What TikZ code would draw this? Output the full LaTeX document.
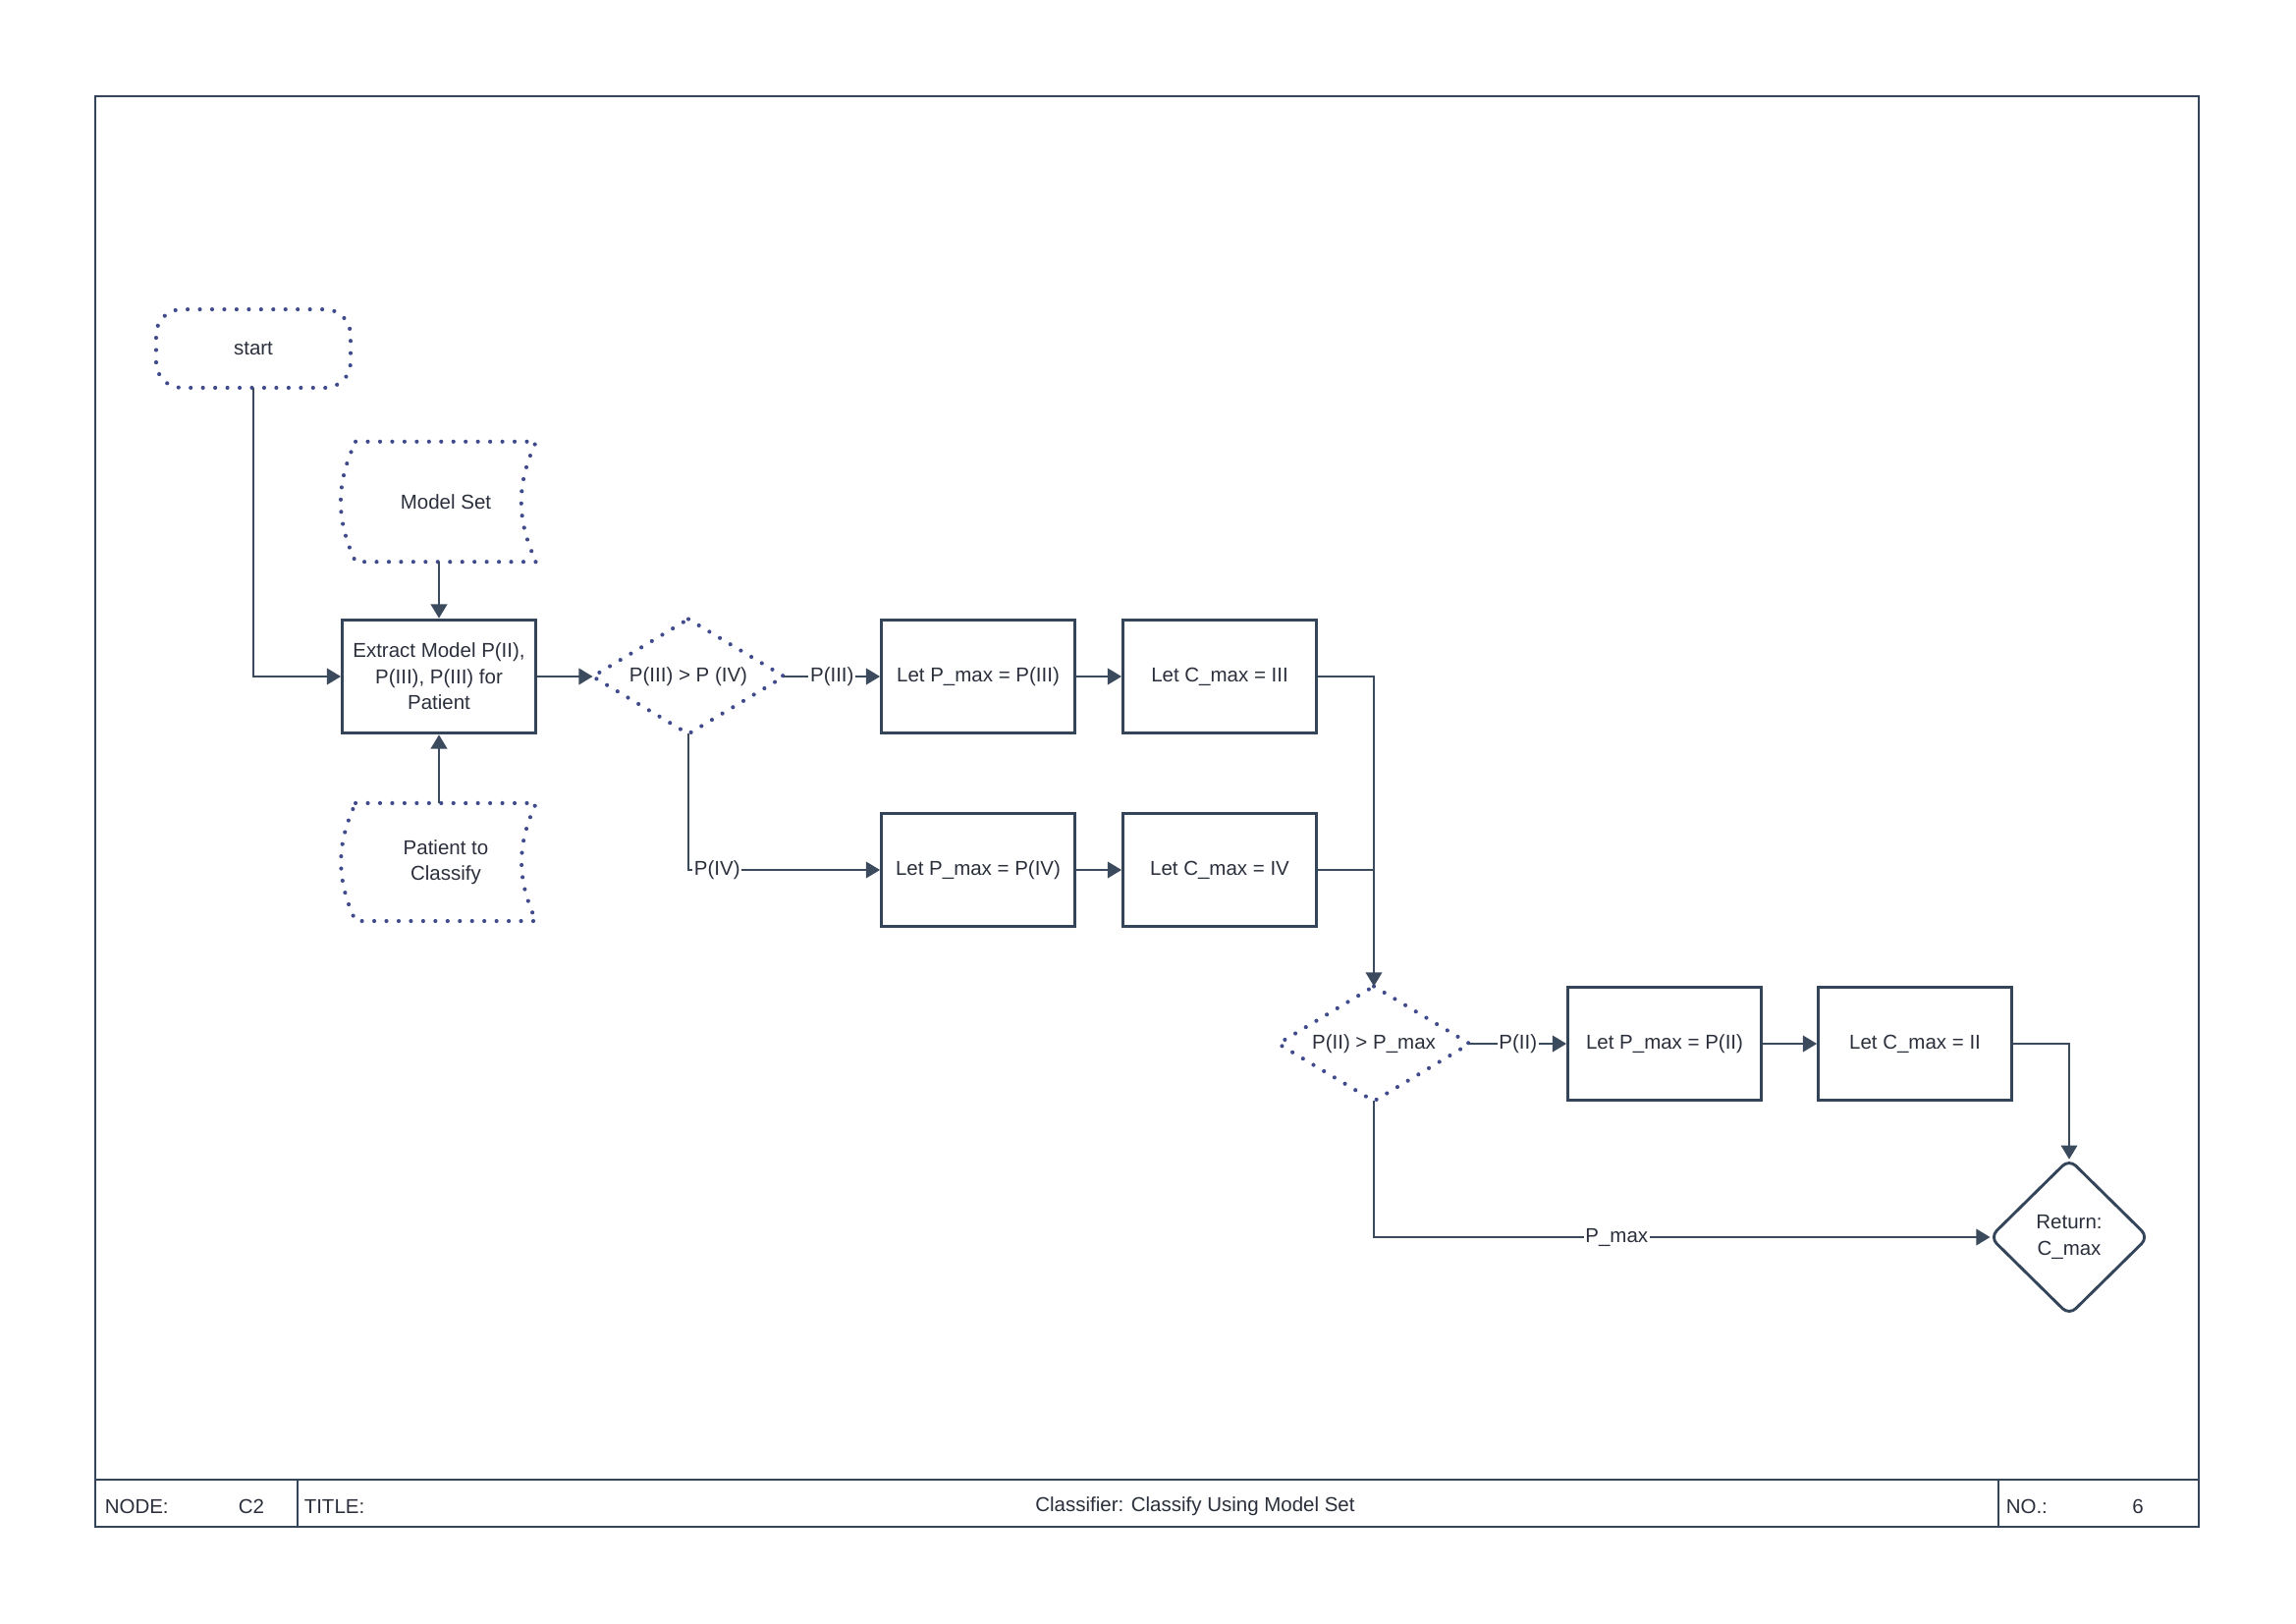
\documentclass[tikz,border=0pt]{standalone}
\usepackage{fontspec}
\setmainfont{Liberation Sans}
\usetikzlibrary{arrows.meta}
\definecolor{edgecol}{HTML}{3C4A5E}
\definecolor{boxcol}{HTML}{34455A}
\definecolor{dotcol}{HTML}{404B8C}
\definecolor{txtcol}{HTML}{2A2F3B}
\begin{document}
\begin{tikzpicture}[x=0.0127cm, y=-0.0127cm,
  every node/.style={font=\fontsize{7.4}{9.6}\selectfont, text=txtcol, align=center},
  procbox/.style={draw=boxcol, line width=1.05pt, minimum width=2.50cm, minimum height=1.47cm, inner sep=1pt},
  dotline/.style={draw=dotcol, line width=1.5pt, line cap=round, dash pattern=on 0pt off 4.5pt},
  conn/.style={draw=edgecol, line width=0.75pt, -{Triangle[length=0.18cm, width=0.21cm]}},
  plain/.style={draw=edgecol, line width=0.75pt},
  lbl/.style={fill=white, inner sep=0.6pt}
]
\useasboundingbox (0,0) rectangle (2338,1653);

% frame and title strip
\draw[boxcol, line width=1.05pt] (97,98) rectangle (2239,1555);
\draw[boxcol, line width=1.05pt] (97,1507) -- (2239,1507);
\draw[boxcol, line width=1.05pt] (303,1507) -- (303,1555);
\draw[boxcol, line width=1.05pt] (2035,1507) -- (2035,1555);
\node[anchor=west] (fnode) at (97,1534) {NODE:};
\node (fnodeval) at (256,1534) {C2};
\node[anchor=west] (ftitle) at (300,1534) {TITLE:};
\node (ftitleval) at (1217,1534) {Classifier: Classify Using Model Set};
\node[anchor=west] (fno) at (2033,1534) {NO.:};
\node (fnoval) at (2177,1534) {6};

% start terminator
\node[minimum width=2.50cm, minimum height=1.0cm, inner sep=0pt] (start) at (258,355) {start};
\draw[dotline, rounded corners=0.33cm] (start.south west) rectangle (start.north east);

% stored data inputs
\node[minimum width=2.32cm, minimum height=1.54cm, inner sep=0pt] (mset) at (454,511) {Model Set};
\draw[dotline] (mset.north west) -- (mset.north east) to[bend right=25] (mset.south east)
  -- (mset.south west) to[bend left=25] (mset.north west);

\node[minimum width=2.32cm, minimum height=1.51cm, inner sep=0pt] (pat) at (454,878) {Patient to\\Classify};
\draw[dotline] (pat.north west) -- (pat.north east) to[bend right=25] (pat.south east)
  -- (pat.south west) to[bend left=25] (pat.north west);

% process boxes
\node[procbox] (extr) at (447,689) {Extract Model P(II),\\P(III), P(III) for\\Patient};
\node[procbox] (pm3) at (996,689) {Let P\_max = P(III)};
\node[procbox] (cm3) at (1242,689) {Let C\_max = III};
\node[procbox] (pm4) at (996,886) {Let P\_max = P(IV)};
\node[procbox] (cm4) at (1242,886) {Let C\_max = IV};
\node[procbox] (pm2) at (1695,1063) {Let P\_max = P(II)};
\node[procbox] (cm2) at (1950,1063) {Let C\_max = II};

% decisions
\node[minimum width=2.46cm, minimum height=1.47cm, inner sep=0pt] (d1) at (701,689) {P(III) > P (IV)};
\draw[dotline] (d1.north) -- (d1.east) -- (d1.south) -- (d1.west) -- cycle;
\node[minimum width=2.46cm, minimum height=1.47cm, inner sep=0pt] (d2) at (1399,1063) {P(II) > P\_max};
\draw[dotline] (d2.north) -- (d2.east) -- (d2.south) -- (d2.west) -- cycle;

% return
\node[minimum width=2.03cm, minimum height=2.0cm, inner sep=0pt] (ret) at (2107,1260) {Return:\\C\_max};
\draw[boxcol, line width=1.05pt, rounded corners=0.12cm] (ret.north) -- (ret.east) -- (ret.south) -- (ret.west) -- cycle;

% connectors
\draw[conn] (start.south) |- (extr.west);
\draw[conn] (mset.south -| extr.north) -- (extr.north);
\draw[conn] (pat.north -| extr.south) -- (extr.south);
\draw[conn] (extr.east) -- (d1.west);
\draw[conn] (d1.east) -- node[lbl] {P(III)} (pm3.west);
\draw[conn] (d1.south) |- node[lbl, pos=0.575] {P(IV)} (pm4.west);
\draw[conn] (pm3) -- (cm3);
\draw[conn] (pm4) -- (cm4);
\draw[conn] (cm3.east) -| (d2.north);
\draw[plain] (cm4.east) -- (cm4.east -| d2.north);
\draw[conn] (d2.east) -- node[lbl] {P(II)} (pm2.west);
\draw[conn] (pm2) -- (cm2);
\draw[conn] (cm2.east) -| (ret.north);
\draw[conn] (d2.south) |- node[lbl, pos=0.697] {P\_max} (ret.west);
\end{tikzpicture}
\end{document}
